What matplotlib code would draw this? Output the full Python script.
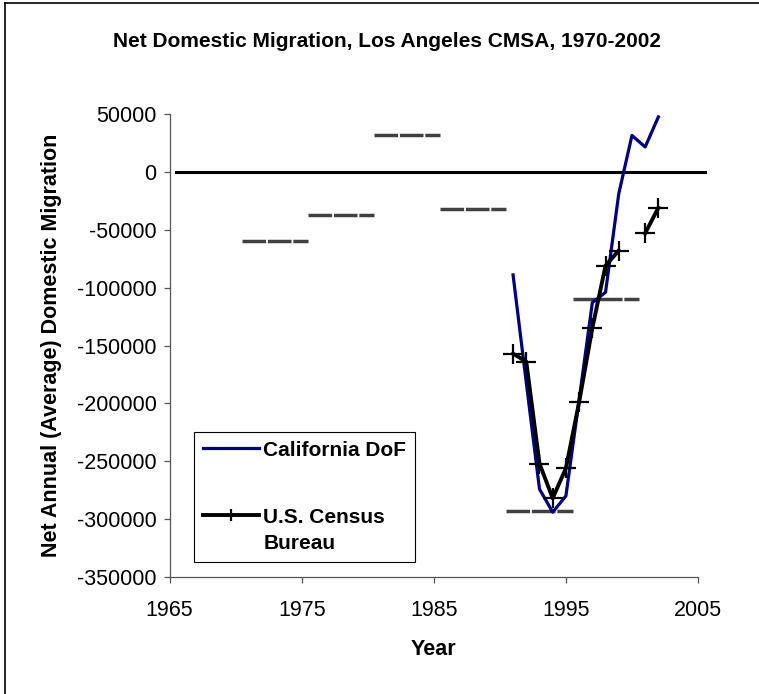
import matplotlib
matplotlib.use('Agg')
import matplotlib.pyplot as plt
import matplotlib.transforms as mtransforms
from matplotlib.legend_handler import HandlerLine2D
import numpy as np
from matplotlib.lines import Line2D

plt.rcParams['font.family'] = ['Liberation Sans', 'DejaVu Sans']
plt.rcParams['lines.scale_dashes'] = False

# ---------------- data ----------------
title = "Net Domestic Migration, Los Angeles CMSA, 1970-2002"
x_label = "Year"
y_label = "Net Annual (Average) Domestic Migration"

dof_label = "California DoF"
dof_years = [1991, 1992, 1993, 1994, 1995, 1996, 1997, 1998, 1999, 2000, 2001, 2002]
dof_values = [-89000, -182000, -274000, -294000, -280000, -197000, -113000,
              -104000, -19000, 31500, 21500, 47500]

census_label = "U.S. Census\nBureau"
census_years = [1991, 1992, 1993, 1994, 1995, 1996, 1997, 1998, 1999, 2000, 2001, 2002]
census_values = [-157000, -164000, -252000, -282000, -256000, -199000, -135000,
                 -81000, -68000, np.nan, -53000, -31000]

# five-year period averages (mid-year to mid-year)
period_start = [1970.5, 1975.5, 1980.5, 1985.5, 1990.5, 1995.5]
period_end = [1975.5, 1980.5, 1985.5, 1990.5, 1995.5, 2000.5]
period_values = [-59700, -37200, 32000, -31700, -293300, -109900]

zero_span = [1965.5, 2005.5]
zero_values = [0, 0]

x_ticks = [1965, 1975, 1985, 1995, 2005]
y_ticks = [50000, 0, -50000, -100000, -150000, -200000, -250000, -300000, -350000]


class RaisedHandler(HandlerLine2D):
    """Legend handle aligned with the first line of a two-line label."""
    def __init__(self, dy, **kw):
        super().__init__(**kw)
        self.dy = dy

    def create_artists(self, legend, orig_handle, xdescent, ydescent, width,
                       height, fontsize, trans):
        trans = mtransforms.Affine2D().translate(0, self.dy) + trans
        return super().create_artists(legend, orig_handle, xdescent, ydescent,
                                      width, height, fontsize, trans)


# ---------------- figure ----------------
W, H = 759, 694
fig = plt.figure(figsize=(W / 100, H / 100), dpi=100)
fig.patch.set_facecolor('white')

ax_left, ax_right, ax_top, ax_bottom = 169.6, 698.0, 114.0, 577.0
ax = fig.add_axes([ax_left / W, 1 - ax_bottom / H, (ax_right - ax_left) / W, (ax_bottom - ax_top) / H])

for s, e, v in zip(period_start, period_end, period_values):
    ax.plot([s, e], [v, v], color='#404040', lw=2.5, dashes=(17, 1.3),
            dash_capstyle='butt', zorder=2)

ax.plot(zero_span, zero_values, color='black', lw=2.2, clip_on=False, zorder=3)

dof_line, = ax.plot(dof_years, dof_values, color='#000080', lw=2.3, zorder=4,
                    label=dof_label)
census_line, = ax.plot(census_years, census_values, color='black', lw=2.8,
                       marker='+', ms=14, mew=1.6, zorder=5, label=census_label)

ax.set_xlim(x_ticks[0], x_ticks[-1])
ax.set_ylim(min(y_ticks), max(y_ticks))
ax.set_xticks(x_ticks)
ax.set_xticklabels([str(t) for t in x_ticks])
ax.set_yticks(y_ticks)
ax.set_yticklabels([str(t) for t in y_ticks])

for side in ['top', 'right']:
    ax.spines[side].set_visible(False)
for side in ['left', 'bottom']:
    ax.spines[side].set_color('#555555')
    ax.spines[side].set_linewidth(0.9)

ax.tick_params(axis='both', direction='out', length=4.3, width=0.9,
               color='#555555', labelsize=15.5, labelcolor='black')
ax.tick_params(axis='x', pad=12)
ax.tick_params(axis='y', pad=5)

leg = ax.legend(handles=[dof_line, census_line], loc='upper left',
                bbox_to_anchor=(194 / W, 1 - 432 / H), bbox_transform=fig.transFigure,
                borderaxespad=0, frameon=True, fancybox=False, framealpha=1,
                edgecolor='black', handlelength=2.7, handletextpad=0.2,
                labelspacing=2.3, borderpad=0.42, markerscale=0.6,
                handler_map={census_line: RaisedHandler(11)},
                prop={'weight': 'bold', 'size': 15})
leg.get_frame().set_linewidth(0.8)
for t in leg.get_texts():
    t.set_linespacing(1.5)

fig.text(387 / W, 1 - 46.7 / H, title, ha='center', va='baseline',
         fontsize=15, fontweight='bold')
fig.text(57 / W, 1 - 345 / H, y_label, rotation=90, rotation_mode='anchor',
         ha='center', va='baseline', fontsize=15.5, fontweight='bold')
fig.text((ax_left + ax_right) / 2 / W, 1 - 655 / H, x_label, ha='center',
         va='baseline', fontsize=15.5, fontweight='bold')

# chart-area border (top and left edges visible)
fig.add_artist(Line2D([5 / W, 1], [1 - 3 / H, 1 - 3 / H], transform=fig.transFigure,
                      color='black', lw=1.2))
fig.add_artist(Line2D([5 / W, 5 / W], [1 - 3 / H, 0], transform=fig.transFigure,
                      color='black', lw=1.2))

fig.savefig('out.png', dpi=100)
